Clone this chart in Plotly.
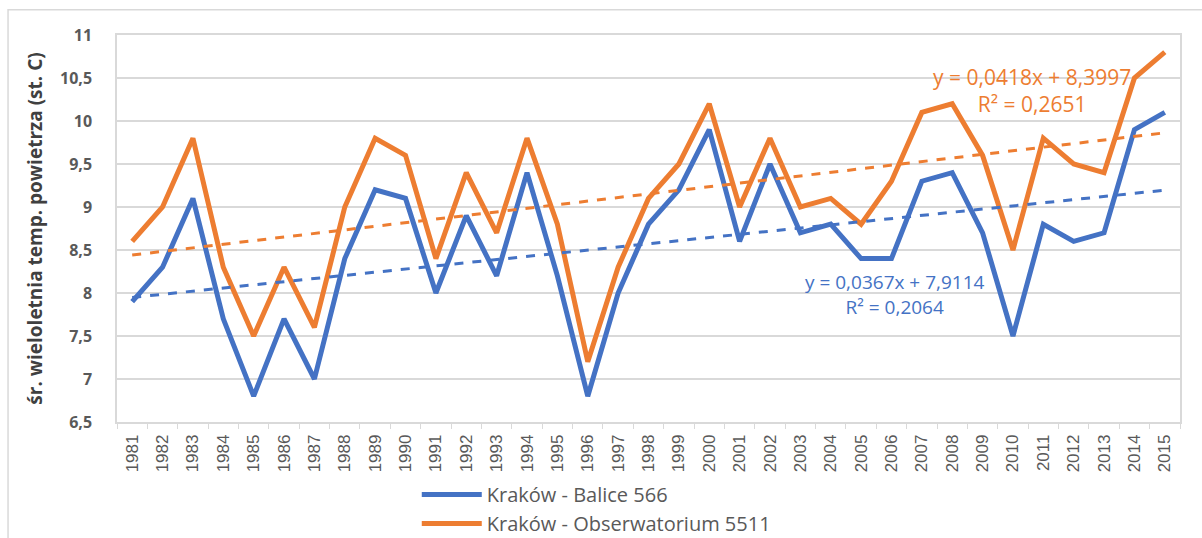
import plotly.graph_objects as go

years = [str(y) for y in range(1981, 2016)]
balice = [7.9, 8.3, 9.1, 7.7, 6.8, 7.7, 7.0, 8.4, 9.2, 9.1, 8.0, 8.9, 8.2, 9.4, 8.2, 6.8, 8.0, 8.8,
          9.2, 9.9, 8.6, 9.5, 8.7, 8.8, 8.4, 8.4, 9.3, 9.4, 8.7, 7.5, 8.8, 8.6, 8.7, 9.9, 10.1]
obserw = [8.6, 9.0, 9.8, 8.3, 7.5, 8.3, 7.6, 9.0, 9.8, 9.6, 8.4, 9.4, 8.7, 9.8, 8.8, 7.2, 8.3, 9.1,
          9.5, 10.2, 9.0, 9.8, 9.0, 9.1, 8.8, 9.3, 10.1, 10.2, 9.6, 8.5, 9.8, 9.5, 9.4, 10.5, 10.8]
series_names = ["Kraków - Balice 566", "Kraków - Obserwatorium 5511"]
trend_balice = (0.0367, 7.9114, 0.2064)
trend_obserw = (0.0418, 8.3997, 0.2651)
yticks = [6.5, 7, 7.5, 8, 8.5, 9, 9.5, 10, 10.5, 11]

BLUE = "#4472C4"
ORANGE = "#ED7D31"

def trend(coef):
    a, b, _ = coef
    return [a * (i + 1) + b for i in range(len(years))]

def fmt(v, d):
    return f"{v:.{d}f}".replace(".", ",")

fig = go.Figure()
fig.add_trace(go.Scatter(x=years, y=balice, mode="lines", name=series_names[0],
                         line=dict(color=BLUE, width=5)))
fig.add_trace(go.Scatter(x=years, y=obserw, mode="lines", name=series_names[1],
                         line=dict(color=ORANGE, width=5)))
fig.add_trace(go.Scatter(x=years, y=trend(trend_balice), mode="lines", showlegend=False,
                         line=dict(color=BLUE, width=3, dash="dash")))
fig.add_trace(go.Scatter(x=years, y=trend(trend_obserw), mode="lines", showlegend=False,
                         line=dict(color=ORANGE, width=3, dash="dash")))

fig.add_annotation(x=29.63, y=10.36, xref="x", yref="y", showarrow=False,
                   text=f"y = {fmt(trend_obserw[0],4)}x + {fmt(trend_obserw[1],4)}<br>R² = {fmt(trend_obserw[2],4)}",
                   font=dict(color=ORANGE, size=21, family="Open Sans"), align="center")
fig.add_annotation(x=25.12, y=7.977, xref="x", yref="y", showarrow=False,
                   text=f"y = {fmt(trend_balice[0],4)}x + {fmt(trend_balice[1],4)}<br>R² = {fmt(trend_balice[2],4)}",
                   font=dict(color=BLUE, size=19, family="Open Sans"), align="center")

# outer chart frame
fig.add_shape(type="rect", xref="paper", yref="paper", x0=-0.1025, x1=1.03, y0=-0.35, y1=1.065,
              line=dict(color="#D9D9D9", width=1.5), layer="below")

fig.update_layout(
    width=1202, height=538,
    margin=dict(l=117, r=22, t=35, b=116),
    paper_bgcolor="white", plot_bgcolor="white",
    separators=", ",
    font=dict(family="Open Sans", color="#595959"),
    legend=dict(orientation="v", x=0.282, y=0.117, xref="paper", yref="container",
                xanchor="left", yanchor="top",
                font=dict(size=20, color="#595959"), tracegroupgap=0, itemwidth=60),
    xaxis=dict(type="category", range=[-0.5, 34.5], showgrid=False, showline=True,
               linecolor="#D9D9D9", linewidth=1.5, mirror=True, ticks="outside",
               tickson="boundaries", ticklen=5, tickcolor="#D9D9D9", tickangle=-90,
               automargin=False, ticklabelstandoff=4,
               tickfont=dict(size=17, color="#595959", family="Liberation Sans")),
    yaxis=dict(range=[6.5, 11], tickvals=yticks, showgrid=True, gridcolor="#D9D9D9", gridwidth=1.5,
               showline=True, linecolor="#D9D9D9", linewidth=1.5, mirror=True, zeroline=False,
               automargin=False,
               tickfont=dict(size=16, color="#595959", family="Open Sans", weight="bold"),
               ticklabelstandoff=20,
               title=dict(text="<b>śr. wieloletnia temp. powietrza (st. C)</b>",
                          font=dict(size=19, color="#404040", family="Open Sans"), standoff=12)),
)

fig.write_html("out.html", config={"displayModeBar": False},
               post_script="document.body.style.margin='0px';")
